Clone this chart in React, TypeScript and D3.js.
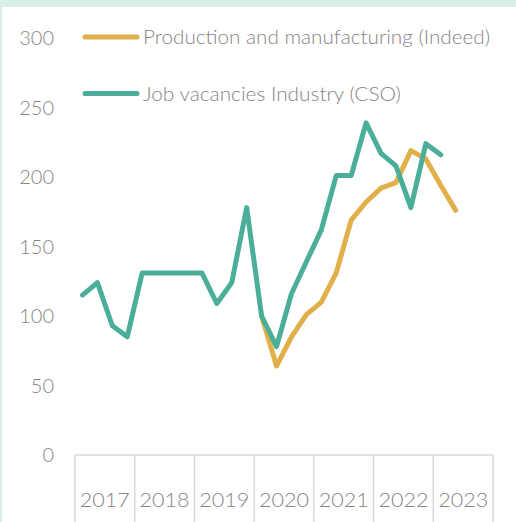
import React from "react";
import * as d3 from "d3";

const years = ["2017", "2018", "2019", "2020", "2021", "2022", "2023"];
const yTicks = [0, 50, 100, 150, 200, 250, 300];

// Quarterly index values, starting 2017 Q1
const jobVacancies = [
  115, 124, 93, 85,
  131, 131, 131, 131,
  131, 109, 124, 178,
  100, 78, 116, 139,
  162, 201, 201, 239,
  217, 208, 178, 224,
  216,
];
const jobStart = 0; // 2017 Q1

// Starting 2020 Q1
const production = [
  100, 64, 85, 101,
  110, 131, 169, 182,
  192, 196, 219, 213,
  194, 176,
];
const prodStart = 12; // 2020 Q1

const seriesNames = [
  "Production and manufacturing (Indeed)",
  "Job vacancies Industry (CSO)",
];

const W = 516;
const H = 522;
const ORANGE = "#E2B04A";
const GREEN = "#4AAE98";
const TEXT = "#858585";
const FONT = "Lato, 'Open Sans', sans-serif";

export default function App() {
  const xBand = d3.scaleBand<string>().domain(years).range([75, 493]).paddingInner(0).paddingOuter(0);
  const bw = xBand.bandwidth();
  const qx = (i: number) => {
    const y = years[Math.floor(i / 4)];
    return (xBand(y) as number) + ((i % 4) + 0.5) * (bw / 4);
  };
  const y = d3.scaleLinear().domain([0, 300]).range([455, 38]);

  const line = d3
    .line<[number, number]>()
    .x((d) => qx(d[0]))
    .y((d) => y(d[1]));

  const jobPts: [number, number][] = jobVacancies.map((v, i) => [i + jobStart, v]);
  const prodPts: [number, number][] = production.map((v, i) => [i + prodStart, v]);

  return (
    <svg
      width={W}
      height={H}
      style={{ position: "absolute", left: 0, top: 0, background: "#fff" }}
      fontFamily={FONT}
      fontWeight={300}
    >
      <rect x={0} y={0} width={W} height={7} fill="#d8efe9" />
      <rect x={0} y={0} width={2} height={H} fill="#d8efe9" />

      {/* x axis */}
      <line x1={75} x2={493} y1={455} y2={455} stroke="#d9d9d9" strokeWidth={1.5} />
      {years.map((yr) => (
        <line
          key={"s" + yr}
          x1={xBand(yr) as number}
          x2={xBand(yr) as number}
          y1={455}
          y2={H}
          stroke="#d9d9d9"
          strokeWidth={1.5}
        />
      ))}
      <line x1={493} x2={493} y1={455} y2={H} stroke="#d9d9d9" strokeWidth={1.5} />
      {years.map((yr) => (
        <text
          key={"l" + yr}
          x={(xBand(yr) as number) + bw / 2}
          y={507}
          textAnchor="middle"
          fontSize={20}
          fill={TEXT}
          textLength={50}
          lengthAdjust="spacingAndGlyphs"
        >
          {yr}
        </text>
      ))}

      {/* y axis labels */}
      {yTicks.map((t) => (
        <text key={"y" + t} x={54} y={y(t) + 7} textAnchor="end" fontSize={20} fill={TEXT}>
          {t}
        </text>
      ))}

      {/* series */}
      <path
        d={line(prodPts) || ""}
        fill="none"
        stroke={ORANGE}
        strokeWidth={5}
        strokeLinejoin="round"
        strokeLinecap="round"
      />
      <path
        d={line(jobPts) || ""}
        fill="none"
        stroke={GREEN}
        strokeWidth={5}
        strokeLinejoin="round"
        strokeLinecap="round"
      />

      {/* legend */}
      {[ORANGE, GREEN].map((c, i) => (
        <g key={"lg" + i}>
          <line
            x1={85}
            x2={137}
            y1={37 + i * 56.5}
            y2={37 + i * 56.5}
            stroke={c}
            strokeWidth={5}
            strokeLinecap="round"
          />
          <text
            x={143}
            y={44 + i * 56.5}
            fontSize={20}
            fill={TEXT}
            textLength={i === 0 ? 347 : 258}
            lengthAdjust="spacingAndGlyphs"
          >
            {seriesNames[i]}
          </text>
        </g>
      ))}
    </svg>
  );
}
